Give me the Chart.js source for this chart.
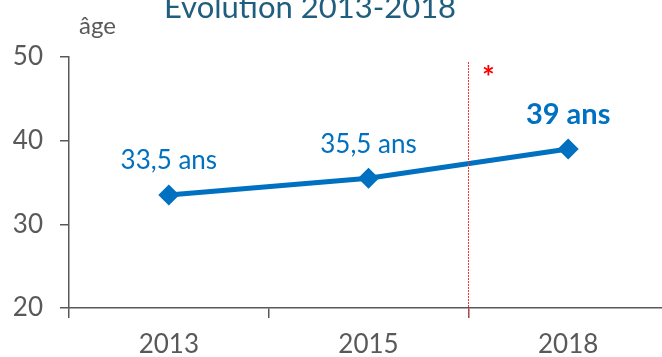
<!DOCTYPE html>
<html>
<head>
<meta charset="utf-8">
<script src="https://cdn.jsdelivr.net/npm/chart.js@4/dist/chart.umd.min.js"></script>
<style>
  html, body { margin: 0; padding: 0; background: #fff; overflow: hidden; }
  #wrap { position: relative; width: 680px; height: 357px; }
</style>
</head>
<body>
<div id="wrap"><canvas id="ageChart"></canvas></div>
<script>
// Age moyen par année
const years = ['2013', '2015', '2018'];
const ages = [33.5, 35.5, 39];
const ageLabels = ['33,5 ans', '35,5 ans', '39 ans'];
const yTicks = [20, 30, 40, 50];

const BLUE = '#0070C0';
const GREY = '#595959';
const FONT = 'Lato, "Open Sans", sans-serif';

// titre, unité, étiquettes et séparateur rouge
const decorPlugin = {
    id: 'decor',
    afterDatasetsDraw(chart) {
        const ctx = chart.ctx;
        const x = chart.scales.x;
        const area = chart.chartArea;
        const meta = chart.getDatasetMeta(0);

        ctx.save();
        // titre (coupé en haut)
        ctx.fillStyle = '#1F5E7E';
        ctx.font = '31px ' + FONT;
        ctx.textAlign = 'center';
        ctx.textBaseline = 'alphabetic';
        ctx.fillText('Evolution 2013-2018', 310, 18);

        ctx.fillStyle = GREY;
        ctx.font = '24px ' + FONT;
        ctx.textAlign = 'left';
        ctx.fillText('âge', 79, 34);

        // ligne pointillée entre 2015 et 2018
        const sepX = Math.round((x.getPixelForValue(1) + x.getPixelForValue(2)) / 2) + 0.5;
        ctx.strokeStyle = '#FF3030';
        ctx.lineWidth = 1;
        ctx.setLineDash([2, 1]);
        ctx.beginPath();
        ctx.moveTo(sepX, 62);
        ctx.lineTo(sepX, area.bottom + 10);
        ctx.stroke();
        ctx.setLineDash([]);

        ctx.fillStyle = '#FF0000';
        ctx.font = 'bold 30px ' + FONT;
        ctx.textAlign = 'center';
        ctx.textBaseline = 'middle';
        ctx.fillText('*', sepX + 20, 78);

        // étiquettes de valeur
        ctx.fillStyle = BLUE;
        meta.data.forEach((pt, i) => {
            const last = i === ages.length - 1;
            ctx.font = (last ? 'bold 29px ' : '26px ') + FONT;
            ctx.fillText(ageLabels[i], pt.x, pt.y - 34);
        });
        ctx.restore();
    }
};

new Chart(document.getElementById('ageChart'), {
    type: 'line',
    data: {
        labels: years,
        datasets: [{
            data: ages,
            borderColor: BLUE,
            backgroundColor: BLUE,
            borderWidth: 5,
            pointStyle: 'rectRot',
            pointRadius: 7,
            pointHoverRadius: 7,
            pointBackgroundColor: BLUE,
            pointBorderColor: BLUE,
            tension: 0
        }]
    },
    options: {
        responsive: true,
        maintainAspectRatio: false,
        animation: false,
        events: [],
        layout: { padding: { top: 57, right: 2, left: 0, bottom: 0 } },
        plugins: {
            legend: { display: false },
            tooltip: { enabled: false }
        },
        scales: {
            x: {
                offset: true,
                grid: {
                    offset: true,
                    drawOnChartArea: false,
                    drawTicks: true,
                    tickLength: 10,
                    color: GREY,
                    lineWidth: 1.5
                },
                border: { color: GREY, width: 1.5 },
                ticks: {
                    color: GREY,
                    font: { family: FONT, size: 26 },
                    padding: 11
                },
                afterFit(axis) { axis.height = 49; }
            },
            y: {
                min: 20,
                max: 50,
                afterBuildTicks(axis) { axis.ticks = yTicks.map(v => ({ value: v })); },
                grid: {
                    drawOnChartArea: false,
                    drawTicks: true,
                    tickLength: 9,
                    color: GREY,
                    lineWidth: 1.5
                },
                border: { color: GREY, width: 1.5 },
                ticks: {
                    color: GREY,
                    font: { family: FONT, size: 26 },
                    padding: 17
                },
                afterFit(axis) { axis.width = 69; }
            }
        }
    },
    plugins: [decorPlugin]
});
</script>
</body>
</html>
